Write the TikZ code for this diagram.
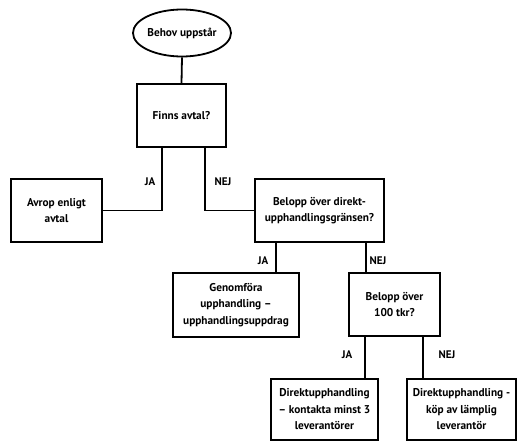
\documentclass[tikz,border=0pt]{standalone}
\usepackage{fontspec}
\setmainfont{PT Sans}
\usetikzlibrary{shapes.geometric,calc}
\begin{document}
\begin{tikzpicture}[x=1pt,y=-1pt,
  box/.style={draw,line width=1.8pt,rectangle,align=center,inner sep=1pt,font=\bfseries\fontsize{11.3}{16.5}\selectfont},
  lbl/.style={font=\bfseries\fontsize{11}{12}\selectfont,inner sep=0pt},
  conn/.style={line width=1.8pt}]
\useasboundingbox (0,0) rectangle (517,442);
\node[box,ellipse,minimum width=91pt,minimum height=47pt,inner sep=0pt] (start) at (182,33) {Behov uppstår};
\node[box,minimum width=89pt,minimum height=63pt] (finns) at (181.5,115.5) {Finns avtal?};
\node[box,minimum width=91pt,minimum height=63pt] (avrop) at (56.5,210.5) {Avrop enligt\\avtal};
\node[box,minimum width=129pt,minimum height=63pt] (bel1) at (319.5,210.5) {Belopp över direkt-\\upphandlingsgränsen?};
\node[box,minimum width=126pt,minimum height=64pt] (genom) at (236,305) {Genomföra\\upphandling –\\upphandlingsuppdrag};
\node[box,minimum width=91pt,minimum height=63pt] (bel2) at (394.5,304.5) {Belopp över\\100 tkr?};
\node[box,minimum width=107pt,minimum height=61pt] (dir1) at (324.5,409.5) {Direktupphandling\\– kontakta minst 3\\leverantörer};
\node[box,minimum width=109pt,minimum height=61pt] (dir2) at (461.5,409.5) {Direktupphandling -\\köp av lämplig\\leverantör};
\coordinate (f1) at ($(finns.south west)+(26,0)$);
\coordinate (f2) at ($(finns.south east)+(-22,0)$);
\coordinate (b1) at ($(bel1.south west)+(22,0)$);
\coordinate (b2) at ($(bel1.south west)+(112,0)$);
\coordinate (c1) at ($(bel2.south west)+(17,0)$);
\coordinate (c2) at ($(bel2.south west)+(75,0)$);
\draw[conn] (start.south) -- (finns.north);
\draw[conn] (f1) |- (avrop.east);
\draw[conn] (f2) |- (bel1.west);
\draw[conn] (b1) -- (b1 |- genom.north);
\draw[conn] (b2) -- (b2 |- bel2.north);
\draw[conn] (c1) -- (c1 |- dir1.north);
\draw[conn] (c2) -- (c2 |- dir2.north);
\node[lbl] (l1) at (150,182) {JA};
\node[lbl] (l2) at (223,182) {NEJ};
\node[lbl] (l3) at (263,261) {JA};
\node[lbl] (l4) at (378,261) {NEJ};
\node[lbl] (l5) at (347,355) {JA};
\node[lbl] (l6) at (447,355) {NEJ};
\end{tikzpicture}
\end{document}
